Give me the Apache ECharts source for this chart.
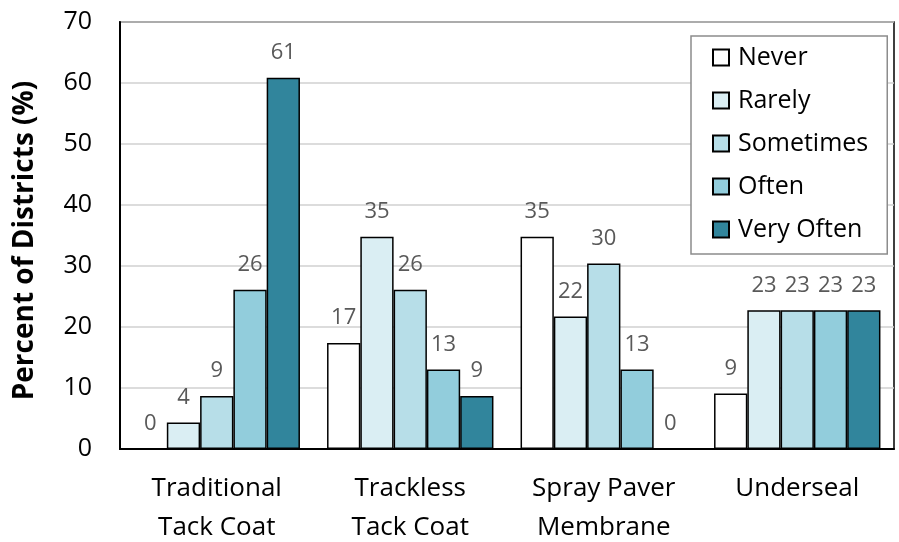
<!DOCTYPE html>
<html>
<head>
<meta charset="utf-8">
<script src="https://cdn.jsdelivr.net/npm/echarts@6/dist/echarts.min.js"></script>
<style>
html,body{margin:0;padding:0;background:#fff;}
#chart{width:899px;height:542px;}
</style>
</head>
<body>
<div id="chart"></div>
<script>
const categories = ['Traditional\nTack Coat', 'Trackless\nTack Coat', 'Spray Paver\nMembrane', 'Underseal'];
const seriesNames = ['Never', 'Rarely', 'Sometimes', 'Often', 'Very Often'];
const never = [0, 17.39, 34.78, 9.09];
const rarely = [4.35, 34.78, 21.74, 22.73];
const sometimes = [8.70, 26.09, 30.43, 22.73];
const often = [26.09, 13.04, 13.04, 22.73];
const veryOften = [60.87, 8.70, 0, 22.73];
const colors = ['#ffffff', '#daeef3', '#b7dee8', '#92cddc', '#31859c'];
const yTicks = [0, 10, 20, 30, 40, 50, 60, 70];

const FONT = '"Open Sans"';
const allData = [never, rarely, sometimes, often, veryOften];

const chart = echarts.init(document.getElementById('chart'), null, {renderer: 'canvas'});
chart.setOption({
  animation: false,
  textStyle: {fontFamily: FONT},
  grid: {left: 120, right: 5, top: 22, bottom: 93, show: true, borderColor: '#000', borderWidth: 1.5, backgroundColor: 'transparent', containLabel: false, outerBoundsMode: 'none'},
  legend: {
    orient: 'vertical',
    left: 691,
    top: 36,
    padding: [9, 19, 12, 21],
    itemGap: 18,
    itemWidth: 16,
    itemHeight: 16,
    borderColor: '#8c8c8c',
    borderWidth: 1.5,
    backgroundColor: '#fff',
    icon: 'rect',
    data: seriesNames,
    textStyle: {fontFamily: FONT, fontSize: 25, color: '#000', lineHeight: 25, padding: [0, 0, 0, 4]}
  },
  xAxis: {
    type: 'category',
    data: categories,
    axisTick: {show: false},
    axisLine: {lineStyle: {color: '#000', width: 2}},
    axisLabel: {fontFamily: FONT, fontSize: 26, color: '#000', lineHeight: 39, margin: 20}
  },
  yAxis: {
    type: 'value',
    min: yTicks[0],
    max: yTicks[yTicks.length - 1],
    interval: 10,
    name: 'Percent of Districts (%)',
    nameLocation: 'middle',
    nameRotate: 90,
    nameGap: 81,
    nameTextStyle: {fontFamily: FONT, fontSize: 28, fontWeight: 'bold', color: '#000', padding: [0, 10, 0, 0]},
    axisLine: {show: true, lineStyle: {color: '#000', width: 2}},
    axisTick: {show: false},
    axisLabel: {fontFamily: FONT, fontSize: 25, color: '#000', margin: 28},
    splitLine: {lineStyle: {color: '#d0d0d0', width: 1.5}}
  },
  series: seriesNames.map((name, i) => ({
    name: name,
    type: 'bar',
    data: allData[i],
    barGap: '0%',
    barCategoryGap: '14%',
    itemStyle: {color: colors[i], borderColor: '#000', borderWidth: 1.5},
    label: {
      show: true,
      position: 'top',
      distance: 14,
      fontFamily: FONT,
      fontSize: 22,
      color: '#595959',
      formatter: p => Math.round(p.value)
    }
  }))
});
</script>
</body>
</html>
